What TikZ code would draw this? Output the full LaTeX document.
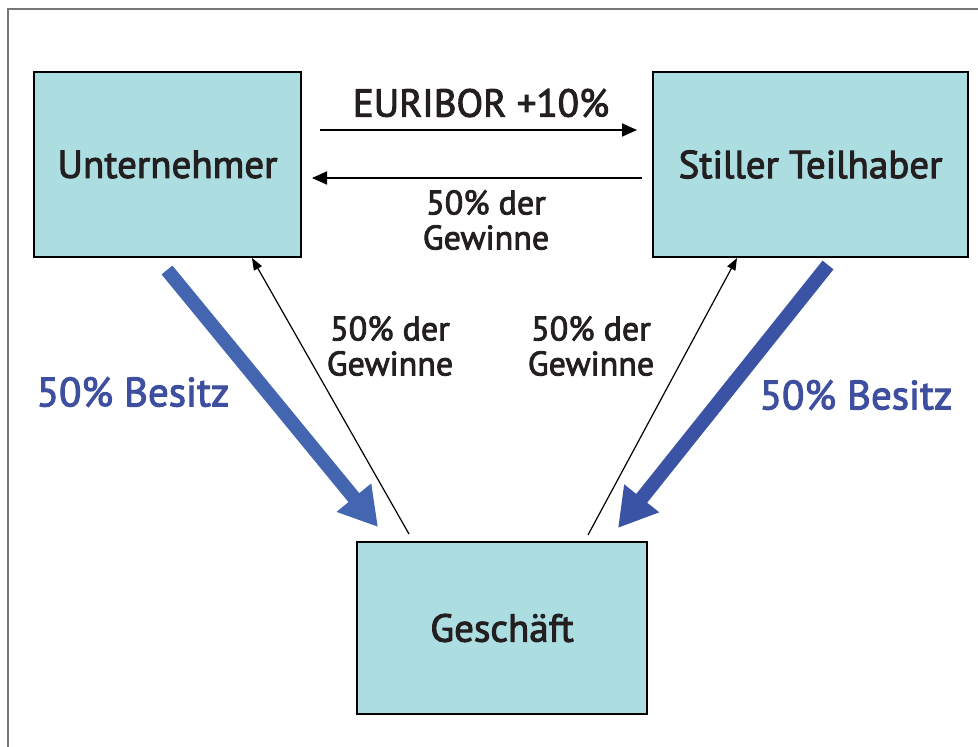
\documentclass[tikz,border=0pt]{standalone}
\usepackage{fontspec}
\setmainfont{PT Sans}
\newfontfamily\semisans{PT Sans}[FakeBold=2.5]
\usetikzlibrary{arrows.meta}
\definecolor{boxfill}{HTML}{ACDDE1}
\definecolor{txt}{HTML}{231F20}
\definecolor{blueA}{HTML}{4466B0}
\definecolor{blueB}{HTML}{3A53A4}
\definecolor{bluetxt}{HTML}{3F4FA0}
\definecolor{frame}{HTML}{777777}
\tikzset{
  party/.style={draw=black, line width=1.6pt, fill=boxfill, inner sep=0pt},
  boxlabel/.style={text=txt, font=\semisans\fontsize{39}{44}\selectfont},
  midlabel/.style={text=txt, font=\semisans\fontsize{34}{35}\selectfont, align=center, inner sep=0pt},
  toplabel/.style={text=txt, font=\semisans\fontsize{39}{40}\selectfont, inner sep=0pt},
  bluelabel/.style={text=bluetxt, font=\semisans\fontsize{41}{42}\selectfont, inner sep=0pt},
  thinarrow/.style={draw=black, line width=1.7pt, -{Triangle[length=15pt,width=13pt]}},
  diagarrow/.style={draw=black, line width=1.2pt, -{Triangle[length=12pt,width=9pt]}},
  thickarrow/.style={line width=14pt, -{Triangle[length=38pt,width=42pt]}}
}
\begin{document}
\begin{tikzpicture}[x=1pt,y=-1pt]
\useasboundingbox (0,0) rectangle (978,747);
\fill[white] (0,0) rectangle (978,747);
\draw[frame, line width=1.5pt] (8,747) -- (8,9) -- (978,9);

% boxes
\node[party, minimum width=267pt, minimum height=185pt] (unt) at (167.5,164.5) {};
\node[party, minimum width=315pt, minimum height=185pt] (stl) at (810.5,164.5) {};
\node[party, minimum width=290pt, minimum height=172pt] (ges) at (502,628) {};
\node[boxlabel] (untl) at (unt.center) {Unternehmer};
\node[boxlabel] (stll) at (stl.center) {Stiller Teilhaber};
\node[boxlabel] (gesl) at (ges.center) {Geschäft};

% horizontal arrows
\coordinate (h1s) at (320,130);
\coordinate (h1e) at (637,130);
\coordinate (h2s) at (642,178);
\coordinate (h2e) at (312,178);
\draw[thinarrow] (h1s) -- (h1e);
\draw[thinarrow] (h2s) -- (h2e);
\node[toplabel] (euribor) at (481,103) {EURIBOR +10\%};
\node[midlabel] (topgew) at (486,220) {50\% der\\Gewinne};

% diagonal thin arrows
\coordinate (d1s) at (409,534);
\coordinate (d1e) at (252,258);
\coordinate (d2s) at (588,535);
\coordinate (d2e) at (737,258);
\draw[diagarrow] (d1s) -- (d1e);
\draw[diagarrow] (d2s) -- (d2e);
\node[midlabel] (lgew) at (390,346) {50\% der\\Gewinne};
\node[midlabel] (rgew) at (591,346) {50\% der\\Gewinne};

% thick arrows
\coordinate (t1s) at (167,270);
\coordinate (t1e) at (378,527);
\coordinate (t2s) at (828,265);
\coordinate (t2e) at (618,528);
\draw[thickarrow, blueA, fill=blueA] (t1s) -- (t1e);
\draw[thickarrow, blueB, fill=blueB] (t2s) -- (t2e);
\node[bluelabel] (lbes) at (133,392) {50\% Besitz};
\node[bluelabel] (rbes) at (856,395) {50\% Besitz};
\end{tikzpicture}
\end{document}
